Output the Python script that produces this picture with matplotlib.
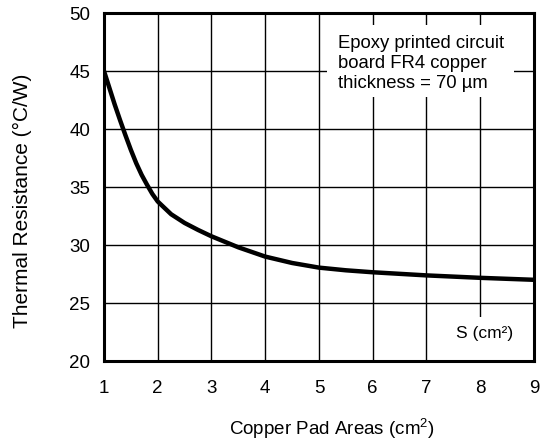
import matplotlib
matplotlib.use('Agg')
import matplotlib.pyplot as plt
from matplotlib.patches import Rectangle

plt.rcParams['font.family'] = ['Liberation Sans', 'DejaVu Sans']
plt.rcParams['mathtext.fontset'] = 'custom'
plt.rcParams['mathtext.rm'] = 'Liberation Sans'
plt.rcParams['mathtext.it'] = 'Liberation Sans'

# values
pad_area = [1.0, 1.1, 1.2, 1.3, 1.4, 1.5, 1.6, 1.7, 1.8, 1.9, 2.0,
            2.25, 2.5, 2.75, 3.0, 3.5, 4.0, 4.5, 5.0, 5.5, 6.0,
            7.0, 8.0, 9.0]
thermal_res = [45.0, 43.55, 42.1, 40.75, 39.45, 38.2, 37.05, 36.05, 35.2,
               34.4, 33.75, 32.65, 31.9, 31.3, 30.75, 29.8, 29.0, 28.45,
               28.05, 27.82, 27.65, 27.38, 27.17, 27.0]

x_ticks = [1, 2, 3, 4, 5, 6, 7, 8, 9]
y_ticks = [20, 25, 30, 35, 40, 45, 50]

note = 'Epoxy printed circuit\nboard FR4 copper\nthickness = 70 µm'

fig = plt.figure(figsize=(5.54, 4.41), dpi=100)
ax = fig.add_axes([0.1877, 0.1814, 0.9639 - 0.1877, 0.9705 - 0.1814])

ax.plot(pad_area, thermal_res, color='black', linewidth=3.2,
        solid_capstyle='butt', solid_joinstyle='round', zorder=4)

ax.set_xlim(1, 9)
ax.set_ylim(20, 50)
ax.set_xticks(x_ticks)
ax.set_yticks(y_ticks)
ax.grid(True, color='black', linewidth=1.0)
ax.set_axisbelow(True)
ax.tick_params(length=0, labelsize=13.5)
ax.tick_params(axis='x', pad=14)
ax.tick_params(axis='y', pad=10)
for sp in ax.spines.values():
    sp.set_linewidth(2.2)
    sp.set_zorder(6)

# white boxes behind the notes
ax.add_patch(Rectangle((5.15, 42.76), 3.47, 6.21, facecolor='white',
                       edgecolor='none', zorder=3))
ax.add_patch(Rectangle((7.26, 20.0), 1.74, 3.8, facecolor='white',
                       edgecolor='none', zorder=3))

ax.text(5.36, 48.1, note, fontsize=13.3, va='top', ha='left',
        linespacing=1.22, zorder=5)
ax.text(8.08, 22.4, 'S (cm²)', fontsize=12.5, va='center', ha='center',
        zorder=5)

ax.set_xlabel('Copper Pad Areas (cm$^2$)', fontsize=13.5)
ax.set_ylabel('Thermal Resistance (°C/W)', fontsize=15)
ax.xaxis.set_label_coords(0.53, -0.161)
ax.yaxis.set_label_coords(-0.167, 0.46)

fig.savefig('out.png', dpi=100)
